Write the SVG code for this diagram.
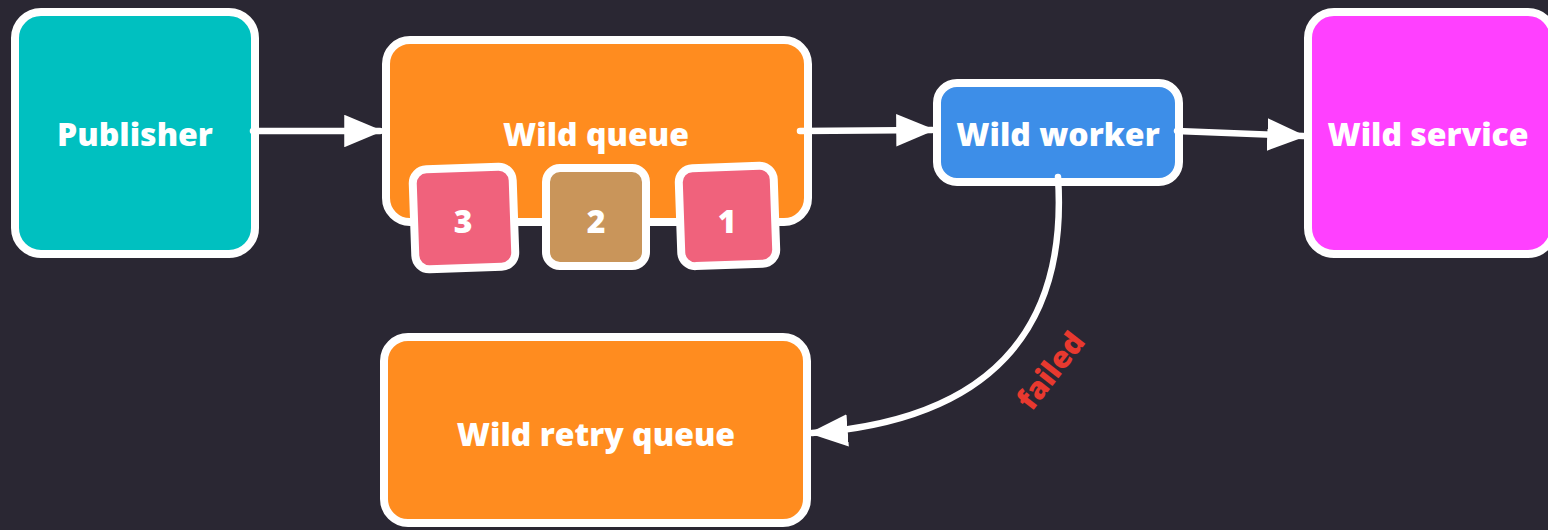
<svg xmlns="http://www.w3.org/2000/svg" width="1548" height="530" viewBox="0 0 1548 530">
<defs>
<style>
.box{stroke:#ffffff;stroke-width:8;stroke-linejoin:round}
.lbl{font-family:"Open Sans","Liberation Sans",sans-serif;font-weight:800;fill:#ffffff;text-anchor:middle;dominant-baseline:central;font-size:32px}
.conn{stroke:#ffffff;stroke-width:6.5;fill:none;stroke-linecap:round}
</style>
<marker id="ah" viewBox="0 0 12 10" refX="11" refY="5" markerWidth="6" markerHeight="5" markerUnits="strokeWidth" orient="auto">
<path d="M0,0 L12,5 L0,10 Z" fill="#ffffff"/>
</marker>
</defs>
<rect width="1548" height="530" fill="#2a2733"/>
<g id="publisher">
<rect class="box" x="15" y="12" width="240" height="242" rx="26" fill="#00c0c0"/>
<text class="lbl" x="135" y="133">Publisher</text>
</g>
<g id="wild-queue">
<rect class="box" x="386" y="40" width="422" height="182" rx="24" fill="#ff8c1f"/>
<text class="lbl" x="596" y="133">Wild queue</text>
</g>
<g id="msg-3">
<rect class="box" x="414" y="168" width="100" height="100" rx="14" fill="#f0627c" transform="rotate(-2 464 218)"/>
<text class="lbl" x="463" y="220">3</text>
</g>
<g id="msg-2">
<rect class="box" x="546" y="168" width="100" height="98" rx="14" fill="#c9955a"/>
<text class="lbl" x="596" y="220">2</text>
</g>
<g id="msg-1">
<rect class="box" x="680" y="167" width="95" height="98" rx="14" fill="#f0627c" transform="rotate(-2 727 216)"/>
<text class="lbl" x="727" y="220">1</text>
</g>
<g id="wild-worker">
<rect class="box" x="937" y="83" width="242" height="99" rx="20" fill="#3d8ee8"/>
<text class="lbl" x="1058" y="133">Wild worker</text>
</g>
<g id="wild-service">
<rect class="box" x="1308" y="12" width="246" height="242" rx="26" fill="#ff40ff"/>
<text class="lbl" x="1428" y="133">Wild service</text>
</g>
<g id="wild-retry-queue">
<rect class="box" x="384" y="337" width="423" height="186" rx="24" fill="#ff8c1f"/>
<text class="lbl" x="596" y="433">Wild retry queue</text>
</g>
<g id="connectors">
<path class="conn" d="M253,131 L380,131" marker-end="url(#ah)"/>
<path class="conn" d="M800,131 L932,130" marker-end="url(#ah)"/>
<path class="conn" d="M1177,131 L1303,136" marker-end="url(#ah)"/>
<path class="conn" d="M1058,177 C1068,330 990,420 812,433" marker-end="url(#ah)"/>
<text x="1050" y="370" font-family="'Open Sans','Liberation Sans',sans-serif" font-weight="800" font-size="30" fill="#e8392f" text-anchor="middle" dominant-baseline="central" transform="rotate(-52 1050 370)">failed</text>
</g>
</svg>
